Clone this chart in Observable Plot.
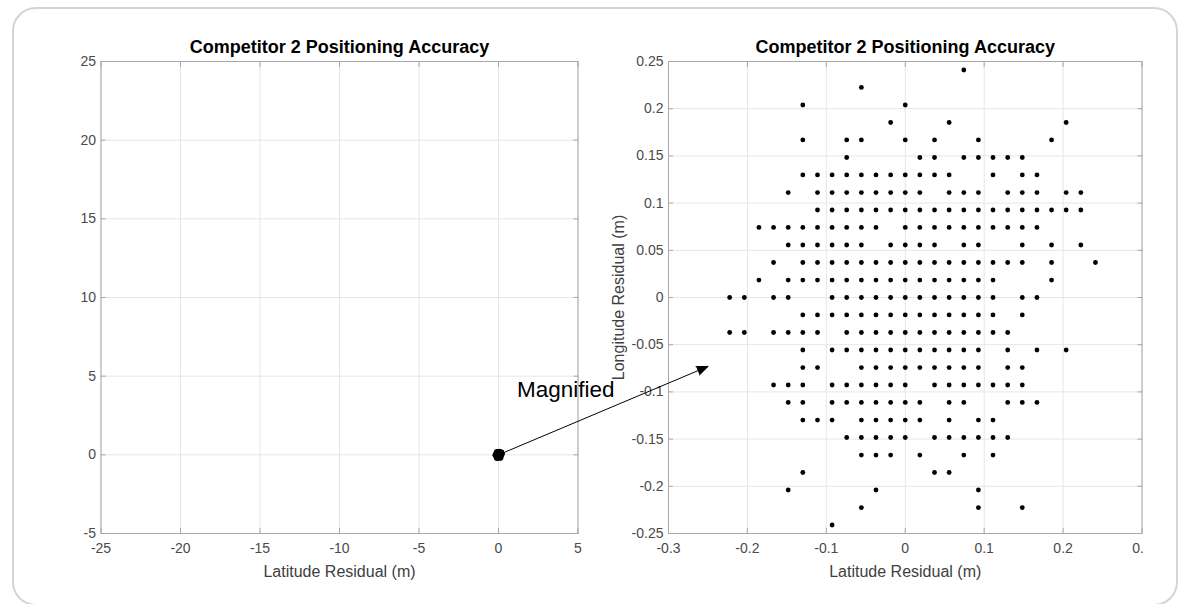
<!DOCTYPE html>
<html>
<head>
<meta charset="utf-8">
<script src="https://cdn.jsdelivr.net/npm/d3@7"></script>
<script src="https://cdn.jsdelivr.net/npm/@observablehq/plot@0.6"></script>
<style>
  html, body { margin: 0; padding: 0; background: #fff; }
  #wrap { position: relative; width: 1180px; height: 604px; overflow: hidden; font-family: "Liberation Sans", Arial, sans-serif; }
  #frame { position: absolute; left: 12px; top: 7px; width: 1166px; height: 599px; box-sizing: border-box;
           border: 2px solid #d4d4d4; border-radius: 24px; }
  #wrap svg { position: absolute; left: 0; top: 0; }
</style>
</head>
<body>
<div id="wrap"><div id="frame"></div></div>
<script>
// ---- data (metres) ----
const titleText = "Competitor 2 Positioning Accuracy";
const xLabel = "Latitude Residual (m)";
const yLabel = "Longitude Residual (m)";
const annotationText = "Magnified";

// longitude levels (rows of the quantised residual grid), top to bottom
const lonLevels = [0.2410, 0.2225, 0.2039, 0.1854, 0.1669, 0.1483, 0.1298, 0.1112, 0.0927, 0.0742, 0.0556, 0.0371, 0.0185, 0,
  -0.0185, -0.0371, -0.0556, -0.0742, -0.0927, -0.1112, -0.1298, -0.1483, -0.1669, -0.1854, -0.2039, -0.2225, -0.2410];

// latitude residuals observed at each longitude level
const latByLevel = [
  [0.0742],
  [-0.0556],
  [-0.1298, 0],
  [-0.0185, 0.0556, 0.2039],
  [-0.1298, -0.0742, -0.0556, 0, 0.0371, 0.0927, 0.1854],
  [-0.0742, 0.0185, 0.0371, 0.0742, 0.0927, 0.1112, 0.1298, 0.1483],
  [-0.1298, -0.1112, -0.0927, -0.0742, -0.0556, -0.0371, -0.0185, 0, 0.0185, 0.0371, 0.0556, 0.1112, 0.1483, 0.1669],
  [-0.1483, -0.1112, -0.0927, -0.0742, -0.0556, -0.0371, -0.0185, 0, 0.0185, 0.0556, 0.0742, 0.0927, 0.1298, 0.1483, 0.1669, 0.2039, 0.2225],
  [-0.1112, -0.0927, -0.0742, -0.0556, -0.0371, -0.0185, 0, 0.0185, 0.0371, 0.0556, 0.0742, 0.0927, 0.1112, 0.1298, 0.1483, 0.1669, 0.1854, 0.2039, 0.2225],
  [-0.1854, -0.1669, -0.1483, -0.1298, -0.1112, -0.0927, -0.0742, -0.0556, -0.0371, 0, 0.0185, 0.0371, 0.0556, 0.0742, 0.0927, 0.1112, 0.1298, 0.1483, 0.1669],
  [-0.1483, -0.1298, -0.1112, -0.0927, -0.0742, -0.0556, -0.0185, 0, 0.0185, 0.0371, 0.0742, 0.0927, 0.1483, 0.1854, 0.2225],
  [-0.1669, -0.1298, -0.1112, -0.0927, -0.0742, -0.0556, -0.0371, -0.0185, 0, 0.0185, 0.0371, 0.0556, 0.0742, 0.0927, 0.1112, 0.1298, 0.1483, 0.1854, 0.2410],
  [-0.1854, -0.1483, -0.1298, -0.1112, -0.0927, -0.0742, -0.0556, -0.0371, -0.0185, 0, 0.0185, 0.0371, 0.0556, 0.0742, 0.0927, 0.1112, 0.1854],
  [-0.2225, -0.2039, -0.1669, -0.1483, -0.0927, -0.0742, -0.0556, -0.0371, -0.0185, 0, 0.0185, 0.0371, 0.0556, 0.0742, 0.0927, 0.1112, 0.1483, 0.1669],
  [-0.1298, -0.1112, -0.0927, -0.0742, -0.0556, -0.0371, -0.0185, 0, 0.0185, 0.0371, 0.0556, 0.0742, 0.0927, 0.1112, 0.1483],
  [-0.2225, -0.2039, -0.1669, -0.1483, -0.1298, -0.1112, -0.0742, -0.0556, -0.0371, -0.0185, 0, 0.0185, 0.0371, 0.0556, 0.0742, 0.0927, 0.1112, 0.1298],
  [-0.1298, -0.0927, -0.0742, -0.0556, -0.0371, -0.0185, 0, 0.0185, 0.0371, 0.0556, 0.0742, 0.0927, 0.1298, 0.1669, 0.2039],
  [-0.1298, -0.1112, -0.0556, -0.0371, -0.0185, 0, 0.0185, 0.0371, 0.0556, 0.0742, 0.0927, 0.1298, 0.1483],
  [-0.1669, -0.1483, -0.1298, -0.0927, -0.0742, -0.0556, -0.0371, -0.0185, 0, 0.0371, 0.0556, 0.0742, 0.0927, 0.1112, 0.1298, 0.1483],
  [-0.1483, -0.1298, -0.0927, -0.0742, -0.0556, -0.0371, -0.0185, 0, 0.0185, 0.0556, 0.0742, 0.1298, 0.1483, 0.1669],
  [-0.1298, -0.1112, -0.0927, -0.0556, -0.0371, -0.0185, 0, 0.0185, 0.0556, 0.0927, 0.1112],
  [-0.0742, -0.0556, -0.0371, -0.0185, 0, 0.0371, 0.0556, 0.0742, 0.0927, 0.1112, 0.1298],
  [-0.0556, -0.0371, -0.0185, 0.0185, 0.0742, 0.1112],
  [-0.1298, 0.0371, 0.0556],
  [-0.1483, -0.0371, 0.0927],
  [-0.0556, 0.0927, 0.1483],
  [-0.0927]
];

// axis ticks
const leftXTicks = [-25, -20, -15, -10, -5, 0, 5];
const leftYTicks = [-5, 0, 5, 10, 15, 20, 25];
const rightXTicks = [-0.3, -0.2, -0.1, 0, 0.1, 0.2, 0.3];
const rightYTicks = [-0.25, -0.2, -0.15, -0.1, -0.05, 0, 0.05, 0.1, 0.15, 0.2, 0.25];

// annotation arrow (left-panel data coordinates): from the cluster to the magnified view
const arrowFrom = {x: 0, y: 0};
const arrowTo = {x: 13.18, y: 5.62};
const labelAt = {x: 1.16, y: 4.12};

// ---- build ----
const points = lonLevels.flatMap((lon, i) => latByLevel[i].map(lat => ({lat, lon})));

const font = "Liberation Sans, Arial, sans-serif";
const tickColor = "#4a4a4a";
const gridColor = "#e6e6e6";
const boxColor = "#a8a8a8";
const fmt = d => String(d);

function panelMarks(xTicks, yTicks, withYLabel) {
  return [
    Plot.gridX(xTicks, {stroke: gridColor, strokeOpacity: 1}),
    Plot.gridY(yTicks, {stroke: gridColor, strokeOpacity: 1}),
    Plot.frame({stroke: boxColor}),
    Plot.axisX(xTicks, {anchor: "bottom", tickSize: -5, tickPadding: 15, tickFormat: fmt, stroke: boxColor, fill: tickColor, fontSize: 14, label: null}),
    Plot.axisX(xTicks, {anchor: "top", tickSize: -5, tickFormat: () => "", stroke: boxColor, label: null}),
    Plot.axisY(yTicks, {anchor: "left", tickSize: -5, tickPadding: 10, tickFormat: fmt, stroke: boxColor, fill: tickColor, fontSize: 14, label: null}),
    Plot.axisY(yTicks, {anchor: "right", tickSize: -5, tickFormat: () => "", stroke: boxColor, label: null}),
    Plot.text([titleText], {frameAnchor: "top", dy: -14, lineAnchor: "middle", textAnchor: "middle", fontWeight: "bold", fontSize: 18, fill: "#000"}),
    Plot.text([xLabel], {frameAnchor: "bottom", dy: 38, lineAnchor: "middle", textAnchor: "middle", fontSize: 16, fill: "#404040"}),
    withYLabel ? Plot.text([yLabel], {frameAnchor: "left", dx: -50, rotate: -90, lineAnchor: "middle", textAnchor: "middle", fontSize: 16, fill: "#404040"}) : null
  ];
}

const right = Plot.plot({
  width: 1143, height: 604,
  marginLeft: 668, marginRight: 1.5, marginTop: 61, marginBottom: 71,
  style: {background: "transparent", fontFamily: font, overflow: "hidden"},
  x: {domain: [-0.3, 0.3]},
  y: {domain: [-0.25, 0.25]},
  marks: [
    ...panelMarks(rightXTicks, rightYTicks, true),
    Plot.dot(points, {x: "lat", y: "lon", r: 2.4, fill: "#000", stroke: null})
  ]
});

const left = Plot.plot({
  width: 1180, height: 604,
  marginLeft: 100.5, marginRight: 602.5, marginTop: 61, marginBottom: 71,
  style: {background: "transparent", fontFamily: font, overflow: "visible"},
  x: {domain: [-25, 5]},
  y: {domain: [-5, 25]},
  marks: [
    ...panelMarks(leftXTicks, leftYTicks, false),
    Plot.dot(points, {x: "lat", y: "lon", r: 2.4, fill: "#000", stroke: null}),
    Plot.arrow([arrowFrom], {x1: "x", y1: "y", x2: d => arrowTo.x, y2: d => arrowTo.y,
      stroke: "#000", fill: "#000", strokeWidth: 1, headLength: 18, headAngle: 44, insetStart: 4, insetEnd: 0}),
    Plot.text([labelAt], {x: "x", y: "y", text: () => annotationText, textAnchor: "start", fontSize: 22.5, fill: "#000"})
  ]
});

const wrap = document.getElementById("wrap");
wrap.appendChild(right);
wrap.appendChild(left);
</script>
</body>
</html>
